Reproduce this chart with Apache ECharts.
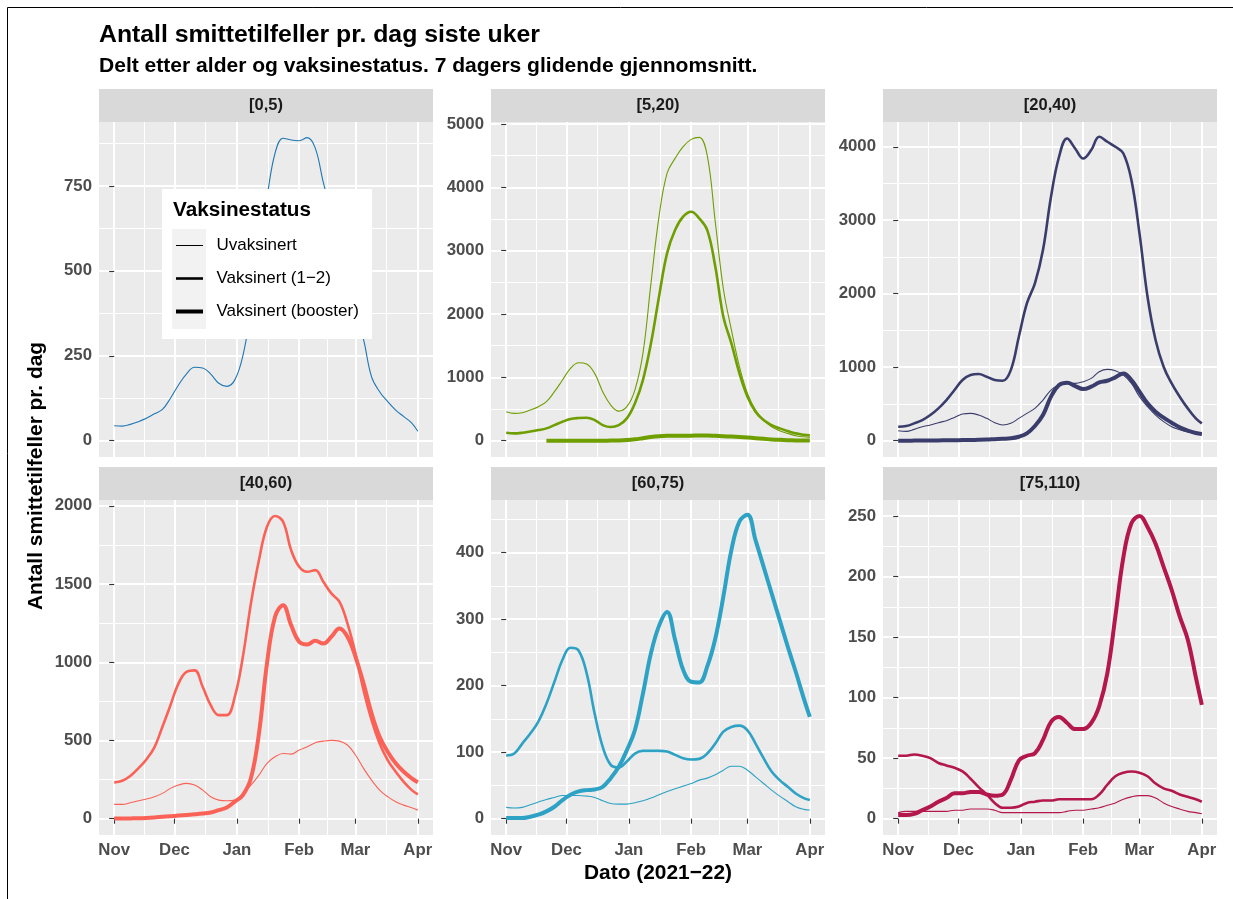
<!DOCTYPE html>
<html><head><meta charset="utf-8">
<script src="https://cdn.jsdelivr.net/npm/echarts@6/dist/echarts.min.js"></script>
<style>html,body{margin:0;padding:0;background:#fff}#c{width:1233px;height:899px}</style>
</head><body><div id="c"></div>
<script>
// ---------- DATA ----------
// day offsets from 2021-11-01
const days = [0,4,8,12,16,20,24,28,32,36,40,44,48,52,56,60,64,68,72,76,80,84,88,92,96,100,104,108,112,116,120,124,128,132,136,140,144,148,151];
const monthDays = [0,30,61,92,120,151];
const monthLabels = ['Nov','Dec','Jan','Feb','Mar','Apr'];
const minorMonthDays = [15,45.5,76.5,106,135.5];

const statuses = ['Uvaksinert','Vaksinert (1\u22122)','Vaksinert (booster)'];
const panelTitles = ['[0,5)','[5,20)','[20,40)','[40,60)','[60,75)','[75,110)'];

const u0_5   = [44,43,48,56,66,79,92,125,164,197,216,214,196,169,160,179,250,385,555,715,846,890,885,883,892,861,760,670,570,470,380,298,188,144,115,90,71,52,28];

const u5_20  = [458,432,442,484,537,616,774,958,1142,1232,1211,1063,774,563,468,537,800,1379,2484,3537,4221,4458,4642,4758,4790,4500,3450,2400,1750,1170,747,484,326,221,158,116,79,63,53];
const v5_20  = [126,116,126,147,168,195,247,300,342,358,363,326,247,216,247,353,589,958,1537,2274,2958,3326,3537,3616,3511,3326,2747,1958,1537,1063,695,458,326,247,195,153,116,95,84];
const b5_20  = [null,null,null,null,null,0,0,0,0,0,0,0,1,2,4,10,22,40,58,70,77,80,79,80,84,83,78,72,65,58,50,40,30,21,14,9,5,3,2];

const u20_40 = [136,127,154,190,213,245,272,317,363,372,349,304,245,213,236,304,372,440,553,689,757,780,780,803,848,939,971,952,893,780,599,463,349,259,190,150,118,95,80];
const v20_40 = [190,200,236,281,349,440,553,689,825,893,907,871,825,816,961,1415,1868,2141,2594,3320,3864,4113,3977,3841,3955,4136,4068,4000,3909,3546,2821,1959,1370,1007,780,599,440,304,236];
const b20_40 = [0,0,1,2,3,4,5,6,8,10,12,15,20,25,32,54,100,200,349,599,757,789,744,703,735,794,816,862,916,825,667,508,395,313,245,181,136,104,91];

const u40_60 = [92,92,102,115,126,141,162,194,215,226,215,183,141,119,115,119,162,215,279,354,396,417,413,439,460,486,496,501,496,471,407,322,247,183,141,109,87,70,55];
const v40_60 = [232,243,273,322,379,456,588,726,865,939,948,843,726,662,662,780,1035,1376,1653,1866,1935,1898,1717,1610,1578,1589,1514,1440,1387,1248,1056,822,630,481,375,300,236,183,155];
const b40_60 = [1,1,2,3,5,8,12,16,20,24,28,33,40,55,72,109,151,258,545,993,1291,1365,1237,1131,1114,1137,1120,1163,1216,1163,1035,865,673,524,428,354,300,258,232];

const u60_75 = [17,16,17,21,25,29,32,35,35,35,34,32,27,23,22,22,24,27,31,36,41,45,49,53,58,61,66,73,79,79,73,63,53,43,34,26,18,14,13];
const v60_75 = [95,98,113,128,146,173,206,239,257,253,219,158,108,81,77,86,98,102,102,102,101,96,91,89,90,98,113,131,138,140,133,113,91,71,58,48,38,31,28];
const b60_75 = [1,1,1,3,6,11,18,28,36,41,43,44,48,61,78,103,133,188,249,290,311,269,224,206,205,229,271,334,404,447,457,419,379,339,299,259,221,181,153];

const u75_110 = [5,6,6,6,6,6,6,7,7,8,8,8,7,5,5,5,5,5,5,5,5,6,7,7,8,9,11,13,16,18,19,19,17,13,10,8,6,5,4];
const v75_110 = [52,52,53,52,50,46,44,42,39,33,26,20,13,9,9,10,13,14,15,15,16,16,16,16,16,20,28,35,38,39,38,35,29,25,23,20,18,16,14];
const b75_110 = [3,3,4,7,10,14,17,21,21,22,22,20,19,20,32,48,52,54,65,80,84,79,74,74,79,93,120,167,216,244,250,241,227,208,189,167,148,117,94];

const yTicks = [
  [0,250,500,750],
  [0,1000,2000,3000,4000,5000],
  [0,1000,2000,3000,4000],
  [0,500,1000,1500,2000],
  [0,100,200,300,400],
  [0,50,100,150,200,250]
];
const yMinorTicks = [
  [125,375,625,875],
  [500,1500,2500,3500,4500],
  [500,1500,2500,3500],
  [250,750,1250,1750],
  [50,150,250,350,450],
  [25,75,125,175,225]
];

const panelData = [
  [u0_5, null, null],
  [u5_20, v5_20, b5_20],
  [u20_40, v20_40, b20_40],
  [u40_60, v40_60, b40_60],
  [u60_75, v60_75, b60_75],
  [u75_110, v75_110, b75_110]
];

// ---------- STYLE / LAYOUT ----------
const FONT = "'Liberation Sans', Arial, Helvetica, sans-serif";
const colors = ['#1F77B4','#6F9E00','#3A3D6B','#FA6257','#2DA2C4','#B3174B'];
const widths = [1.1, 2.6, 4.0];
const keyWidths = [1, 2.6, 4];
const yRanges = [[-48,938],[-257,5032],[-222,4337],[-104,2037],[-24.5,479.3],[-13.5,263.2]];
const colLeft = [99,491,883], rowTop = [122,500], PW = 334, PH = 335, STRIP = 33;
const xMin = -7.55, xMax = 158.55;

const grids = [], xAxes = [], yAxes = [], series = [], graphics = [];
const tickLabelStyle = {fontFamily: FONT, fontSize: 16.8, fontWeight: 'bold', color: '#4D4D4D'};

for (let i = 0; i < 6; i++) {
  const col = i % 3, row = Math.floor(i / 3);
  grids.push({left: colLeft[col], top: rowTop[row], width: PW, height: PH, show: true,
    backgroundColor: '#EBEBEB', borderWidth: 0, containLabel: false, outerBoundsMode: 'none'});
  const bottom = row === 1;
  const xa = {
    type: 'value', gridIndex: i, min: xMin, max: xMax,
    axisLine: {show: false},
    axisTick: {show: bottom, length: 5, lineStyle: {color: '#333', width: 1.1}, customValues: monthDays},
    axisLabel: Object.assign({show: bottom, margin: 6.5, customValues: monthDays,
      formatter: v => monthLabels[monthDays.indexOf(v)]}, tickLabelStyle),
    splitLine: {show: true, lineStyle: {color: '#FFFFFF', width: 2}}
  };
  if (i === 4) {
    xa.name = 'Dato (2021\u221222)';
    xa.nameLocation = 'middle';
    xa.nameGap = 28;
    xa.nameTextStyle = {fontFamily: FONT, fontSize: 20.9, fontWeight: 'bold', color: '#000'};
  }
  xAxes.push(xa);
  yAxes.push({
    type: 'value', gridIndex: i, min: yRanges[i][0], max: yRanges[i][1],
    axisLine: {show: false},
    axisTick: {show: true, length: 5, lineStyle: {color: '#333', width: 1.1}, customValues: yTicks[i]},
    axisLabel: Object.assign({margin: 7, customValues: yTicks[i], formatter: v => String(v)}, tickLabelStyle),
    splitLine: {show: true, lineStyle: {color: '#FFFFFF', width: 2}}
  });
  // strip
  graphics.push({type: 'rect', shape: {x: colLeft[col], y: rowTop[row] - STRIP, width: PW, height: STRIP},
    style: {fill: '#D9D9D9'}, z: 1, silent: true});
  graphics.push({type: 'text', x: colLeft[col] + PW / 2, y: rowTop[row] - STRIP / 2, z: 1, silent: true,
    style: {text: panelTitles[i], fontFamily: FONT, fontSize: 16.5, fontWeight: 'bold', fill: '#1A1A1A',
      align: 'center', verticalAlign: 'middle'}});
  // series
  for (let k = 0; k < 3; k++) {
    const arr = panelData[i][k];
    if (!arr) continue;
    const data = [];
    days.forEach((d, j) => { if (arr[j] !== null) data.push([d, arr[j]]); });
    series.push({
      type: 'line', name: statuses[k], xAxisIndex: i, yAxisIndex: i, data: data,
      smooth: 0.4, symbol: 'none', showSymbol: false, clip: true, silent: true,
      lineStyle: {color: colors[i], width: widths[k], cap: 'butt', join: 'round'},
      itemStyle: {color: colors[i]}, emphasis: {disabled: true}, z: 2
    });
  }
}
// minor grid axes
for (let i = 0; i < 6; i++) {
  xAxes.push({type: 'value', gridIndex: i, min: xMin, max: xMax, position: 'top',
    axisLine: {show: false}, axisTick: {show: false, customValues: minorMonthDays},
    axisLabel: {show: false, customValues: minorMonthDays},
    splitLine: {show: true, lineStyle: {color: '#FFFFFF', width: 1}}});
  yAxes.push({type: 'value', gridIndex: i, min: yRanges[i][0], max: yRanges[i][1], position: 'right',
    axisLine: {show: false}, axisTick: {show: false, customValues: yMinorTicks[i]},
    axisLabel: {show: false, customValues: yMinorTicks[i]},
    splitLine: {show: true, lineStyle: {color: '#FFFFFF', width: 1}}});
}

// border, y-axis title, legend box
graphics.push({type: 'line', shape: {x1: 7.5, y1: 7.5, x2: 7.5, y2: 899}, style: {stroke: '#000', lineWidth: 1}, silent: true});
graphics.push({type: 'line', shape: {x1: 7.5, y1: 7.5, x2: 1233, y2: 7.5}, style: {stroke: '#000', lineWidth: 1}, silent: true});
graphics.push({type: 'text', x: 36, y: 476, rotation: Math.PI / 2, silent: true,
  style: {text: 'Antall smittetilfeller pr. dag', fontFamily: FONT, fontSize: 20.9, fontWeight: 'bold',
    fill: '#000', align: 'center', verticalAlign: 'middle'}});
graphics.push({type: 'rect', shape: {x: 162, y: 189, width: 210, height: 150}, style: {fill: '#FFFFFF'}, z: 3, z2: 0, silent: true});
graphics.push({type: 'rect', shape: {x: 172, y: 229, width: 34, height: 100}, style: {fill: '#F2F2F2'}, z: 3, z2: 1, silent: true});
graphics.push({type: 'text', x: 173, y: 210, z: 3, z2: 2, silent: true,
  style: {text: 'Vaksinestatus', fontFamily: FONT, fontSize: 20.7, fontWeight: 'bold', fill: '#000',
    align: 'left', verticalAlign: 'middle'}});

function keyIcon(w) {
  return 'path://M0,0M44,20M8.5,' + (10 - w / 2) + 'H35.5V' + (10 + w / 2) + 'H8.5Z';
}

const option = {
  animation: false,
  backgroundColor: '#FFFFFF',
  title: [
    {text: 'Antall smittetilfeller pr. dag siste uker', left: 99, top: 23, padding: 0,
      textStyle: {fontFamily: FONT, fontSize: 24.8, fontWeight: 'bold', color: '#000'}},
    {text: 'Delt etter alder og vaksinestatus. 7 dagers glidende gjennomsnitt.', left: 99, top: 56, padding: 0,
      textStyle: {fontFamily: FONT, fontSize: 21.05, fontWeight: 'bold', color: '#000'}}
  ],
  legend: {
    orient: 'vertical', left: 167.5, top: 235.5, padding: 0, itemWidth: 44, itemHeight: 20, itemGap: 13,
    selectedMode: false, z: 4, symbolKeepAspect: true,
    textStyle: {fontFamily: FONT, fontSize: 17, color: '#000', lineHeight: 20},
    data: statuses.map((s, k) => ({name: s, icon: keyIcon(keyWidths[k]),
      itemStyle: {color: '#000', borderWidth: 0}}))
  },
  grid: grids,
  xAxis: xAxes,
  yAxis: yAxes,
  series: series,
  graphic: {elements: graphics}
};

const chart = echarts.init(document.getElementById('c'), null, {renderer: 'canvas', width: 1233, height: 899});
chart.setOption(option);
</script></body></html>
